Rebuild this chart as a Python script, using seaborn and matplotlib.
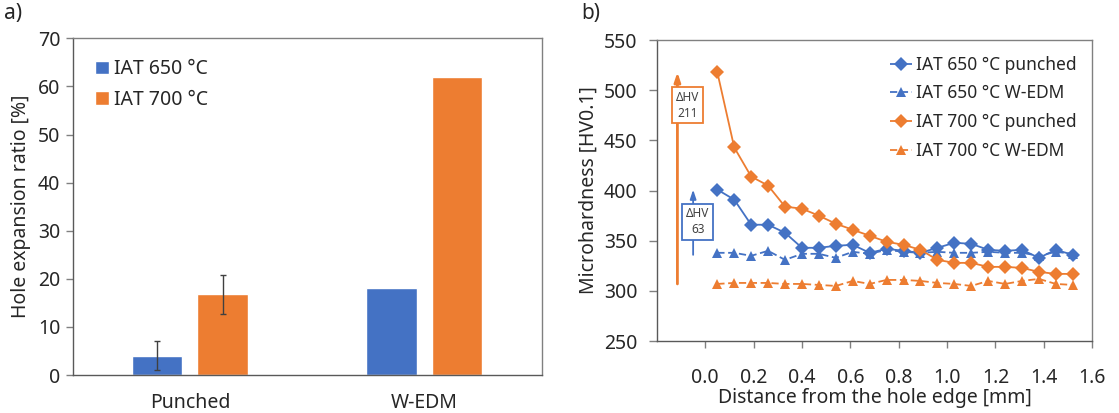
import numpy as np
import pandas as pd
import matplotlib
matplotlib.use('Agg')
import matplotlib.pyplot as plt
import seaborn as sns

BLUE = '#4472C4'
ORANGE = '#ED7D31'
FRAME = '#808080'
TEXT = '#262626'

# a) hole expansion ratio
methods = ['Punched', 'W-EDM']
temps = ['IAT 650 °C', 'IAT 700 °C']
her_650 = [4.0, 18.0]
her_700 = [16.8, 62.0]
err_650 = [3.0, 0.0]
err_700 = [4.1, 0.0]

# b) microhardness profiles
distance = [0.05, 0.12, 0.19, 0.26, 0.33, 0.40, 0.47, 0.54, 0.61, 0.68, 0.75,
            0.82, 0.89, 0.96, 1.03, 1.10, 1.17, 1.24, 1.31, 1.38, 1.45, 1.52]
hv_650_punched = [401, 391, 366, 366, 358, 343, 343, 345, 346, 338, 342,
                  340, 338, 343, 348, 347, 341, 340, 341, 333, 341, 336]
hv_650_wedm = [338, 338, 335, 340, 331, 337, 337, 333, 339, 337, 341,
               339, 338, 339, 338, 338, 339, 338, 338, 335, 339, 337]
hv_700_punched = [518, 443, 414, 405, 384, 382, 375, 367, 361, 355, 349,
                  346, 341, 331, 328, 328, 324, 324, 323, 319, 317, 317]
hv_700_wedm = [307, 308, 308, 308, 307, 307, 306, 305, 310, 307, 311,
               311, 310, 308, 307, 305, 310, 307, 310, 312, 307, 306]
series = ['IAT 650 °C punched', 'IAT 650 °C W-EDM',
          'IAT 700 °C punched', 'IAT 700 °C W-EDM']

sns.set_theme(style='white')
plt.rcParams['font.family'] = ['Noto Sans', 'DejaVu Sans']
plt.rcParams['text.color'] = TEXT
plt.rcParams['axes.labelcolor'] = TEXT
plt.rcParams['xtick.color'] = TEXT
plt.rcParams['ytick.color'] = TEXT

fig = plt.figure(figsize=(11.19, 4.13), dpi=100)
ax1 = fig.add_axes([0.065, 0.092, 0.419, 0.815])
ax2 = fig.add_axes([0.587, 0.174, 0.389, 0.729])

# ---- a) bars
df_her = pd.DataFrame({
    'method': methods * 2,
    'temp': [temps[0]] * len(methods) + [temps[1]] * len(methods),
    'her': her_650 + her_700,
})
sns.barplot(data=df_her, x='method', y='her', hue='temp', hue_order=temps,
            palette=[BLUE, ORANGE], saturation=1, width=0.56, gap=0.23,
            errorbar=None, ax=ax1)
for cont, errs in zip(ax1.containers, [err_650, err_700]):
    for bar, e in zip(cont, errs):
        if e > 0:
            ax1.errorbar(bar.get_x() + bar.get_width() / 2, bar.get_height(),
                         yerr=e, color='#404040', lw=1, capsize=2, capthick=1)

ax1.set_xlim(-0.5, len(methods) - 0.5)
ax1.set_ylim(0, 70)
ax1.set_yticks(range(0, 71, 10))
ax1.set_xlabel('')
ax1.set_ylabel('Hole expansion ratio [%]', fontsize=14, labelpad=5)
ax1.tick_params(axis='x', length=0, pad=13, labelsize=14)
ax1.tick_params(axis='y', direction='out', length=5, width=1, color=FRAME,
                pad=4, labelsize=14, left=True)
ax1.legend(loc='upper left', bbox_to_anchor=(0.01, 0.99), frameon=False,
           fontsize=14, handlelength=0.7, handleheight=0.7,
           handletextpad=0.3, labelspacing=0.55)

# ---- b) lines
df_hv = pd.DataFrame({
    'distance': distance * 4,
    'hv': hv_650_punched + hv_650_wedm + hv_700_punched + hv_700_wedm,
    'series': [s for s in series for _ in distance],
})
sns.lineplot(data=df_hv, x='distance', y='hv', hue='series', style='series',
             hue_order=series, style_order=series,
             palette=[BLUE, BLUE, ORANGE, ORANGE],
             markers=['D', '^', 'D', '^'],
             dashes=[(1, 0), (4, 2), (1, 0), (4, 2)],
             markersize=7, linewidth=1.3, markeredgewidth=0, ax=ax2)

# hardness difference arrows
d700 = hv_700_punched[0] - hv_700_wedm[0]
d650 = hv_650_punched[0] - hv_650_wedm[0]
ax2.annotate('', xy=(-0.115, hv_700_punched[0]), xytext=(-0.115, hv_700_wedm[0]),
             arrowprops=dict(arrowstyle='-|>,head_length=0.45,head_width=0.15',
                             color=ORANGE, lw=2, shrinkA=0, shrinkB=0))
ax2.text(-0.074, 485, f'ΔHV\n{d700}', ha='center', va='center', fontsize=8.5,
         color='#404040', linespacing=1.3,
         bbox=dict(boxstyle='square,pad=0.3', fc='white', ec=ORANGE, lw=1.3))
ax2.annotate('', xy=(-0.05, hv_650_punched[0]), xytext=(-0.05, hv_650_wedm[0] - 2),
             arrowprops=dict(arrowstyle='-|>,head_length=0.45,head_width=0.15',
                             color=BLUE, lw=1.3, shrinkA=0, shrinkB=0))
ax2.text(-0.031, 369, f'ΔHV\n{d650}', ha='center', va='center', fontsize=8.5,
         color='#404040', linespacing=1.3,
         bbox=dict(boxstyle='square,pad=0.3', fc='white', ec=BLUE, lw=1.3))

ax2.set_xlim(-0.2, 1.6)
ax2.set_ylim(250, 550)
ax2.set_xticks(np.arange(0, 1.61, 0.2))
ax2.set_xticklabels([f'{t:.1f}' for t in np.arange(0, 1.61, 0.2)])
ax2.set_yticks(range(250, 551, 50))
ax2.set_xlabel('Distance from the hole edge [mm]', fontsize=14, labelpad=0)
ax2.set_ylabel('Microhardness [HV0.1]', fontsize=14, labelpad=4)
ax2.tick_params(axis='x', direction='out', length=5, width=1, color=FRAME,
                pad=14, labelsize=14, bottom=True)
ax2.tick_params(axis='y', direction='out', length=6, width=1, color=FRAME,
                pad=8, labelsize=14, left=True)
ax2.legend(loc='upper right', bbox_to_anchor=(1.0, 1.0), frameon=False,
           fontsize=12.5, handlelength=1.3, handletextpad=0.2, labelspacing=0.62)

for ax in (ax1, ax2):
    for sp in ax.spines.values():
        sp.set_visible(True)
        sp.set_color(FRAME)
        sp.set_linewidth(1)
    ax.spines['bottom'].set_color('#595959')
    ax.spines['left'].set_color('#595959')

fig.text(0.004, 0.955, 'a)', fontsize=15, color=TEXT)
fig.text(0.519, 0.955, 'b)', fontsize=15, color=TEXT)

fig.savefig('out.png', dpi=100)
